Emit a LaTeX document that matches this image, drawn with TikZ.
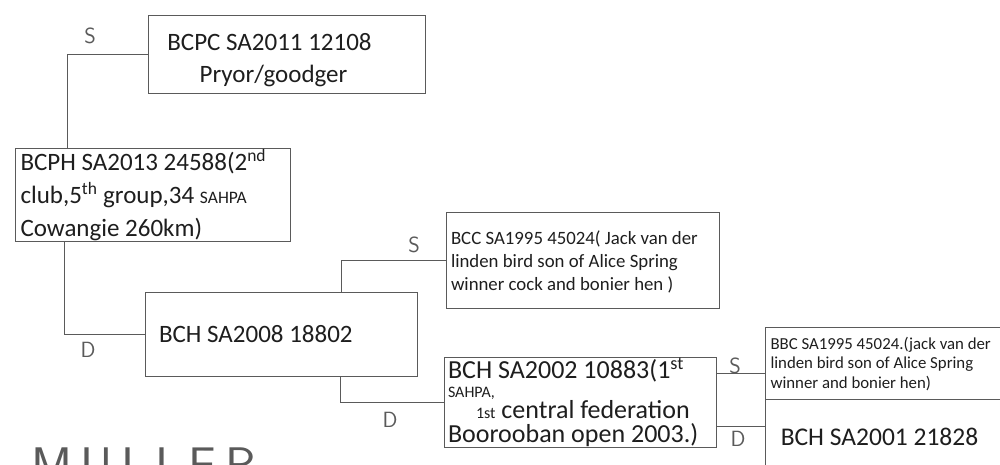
\documentclass[tikz,border=0pt]{standalone}
\usepackage{fontspec}
\setmainfont{Carlito}
\usepackage{tikz}
\usetikzlibrary{calc,positioning}
\definecolor{ink}{HTML}{1E1E1E}
\definecolor{pencil}{HTML}{5A5A5A}
\definecolor{paper}{HTML}{FFFFFF}
\tikzset{
  box/.style={draw=pencil,line width=0.9pt,rectangle,align=flush left,inner xsep=5pt,inner ysep=0pt,text=ink},
  wire/.style={draw=pencil,line width=0.9pt},
  hand/.style={font=\sffamily\fontsize{22}{22}\selectfont,text=pencil},
}
\newcommand{\fsz}[1]{\fontsize{#1}{#1}\selectfont}
\begin{document}
\begin{tikzpicture}[x=1pt,y=-1pt]
  \useasboundingbox[fill=paper] (0,0) rectangle (1000,465);
  % boxes
  \node[box,align=center,minimum width=277,minimum height=78,font=\fsz{25}] (bcpc) at (286.5,54)
    {\rule{0pt}{30pt}\hspace*{-34pt}BCPC SA2011 12108\\[7pt]\hspace*{-26pt}Pryor/goodger};
  \node[box,text width=265,minimum height=90,font=\fsz{25}] (bcph) at (153,195)
    {\rule{0pt}{22pt}BCPH SA2013 24588(2\textsuperscript{nd}\\[8pt]club,5\textsuperscript{th} group,34 {\fsz{17.5}SAHPA}\\[8pt]Cowangie 260km)};
  \node[box,text width=264,minimum height=84,font=\fsz{25},inner xsep=4pt] (bch08) at (281,334)
    {\hspace*{10pt}BCH SA2008 18802};
  \node[box,text width=263,minimum height=96,font=\fsz{18.8}] (bcc95) at (582.5,260.5)
    {\rule{0pt}{17pt}BCC SA1995 45024( Jack van der\\[4pt]linden bird son of Alice Spring\\[4pt]winner cock and bonier hen )};
  \node[box,text width=264,minimum height=90,font=\fsz{26},inner xsep=4pt] (bch02) at (580,402)
    {BCH SA2002 10883(1\textsuperscript{st}\\[-7pt]{\fsz{16}SAHPA,}\\[-5pt]\hspace*{28pt}{\fsz{16}1st} central federation\\[-2pt]Boorooban open 2003.)};
  \node[box,text width=230,minimum height=72,font=\fsz{16.8}] (bbc95) at (885.5,363)
    {\rule{0pt}{14pt}BBC SA1995 45024.(jack van der\\[3pt]linden bird son of Alice Spring\\[3pt]winner and bonier hen)};
  \node[box,align=center,minimum width=240,minimum height=76,font=\fsz{25.5}] (bch01) at (885.5,437)
    {\hspace*{-12pt}BCH SA2001 21828};
  % sire and dam lines
  \draw[wire] ($(bcph.north west)+(52,0)$) |- (bcpc.west);
  \draw[wire] ($(bcph.south west)+(49,0)$) |- (bch08.west);
  \draw[wire] ($(bch08.north west)+(197,0)$) |- (bcc95.west);
  \draw[wire] ($(bch08.south west)+(196,0)$) |- (bch02.west);
  \draw[wire] ($(bch02.north east)+(0,17)$) coordinate (s3) -- (s3 -| bbc95.west);
  \draw[wire] ($(bch02.south east)+(0,-21)$) coordinate (d3) -- (d3 -| bbc95.west);
  % S / D marks
  \node[hand] (sA) at (90,36) {S};
  \node[hand] (dA) at (88,350) {D};
  \node[hand] (sB) at (414,245) {S};
  \node[hand] (dB) at (390,420) {D};
  \node[hand] (sC) at (735,366) {S};
  \node[hand] (dC) at (738,439) {D};
  \node[font=\sffamily\fontsize{50}{50}\selectfont,text=pencil,anchor=north west] (owner) at (28,444) {M\,U\,L\,L\,E\,R};
\end{tikzpicture}
\end{document}
